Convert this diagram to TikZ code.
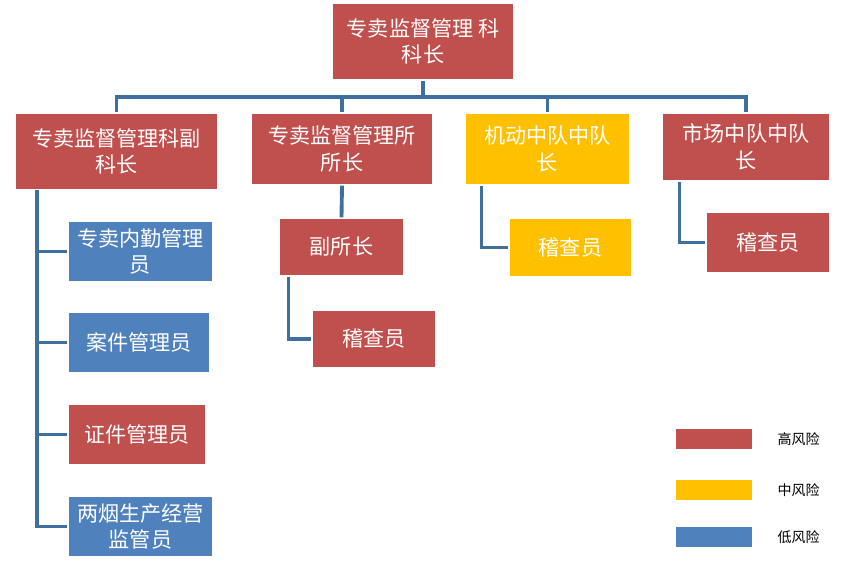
\documentclass[tikz,border=0pt]{standalone}
\usepackage{fontspec}
\newfontfamily\cjk{Noto Sans CJK SC}
\usetikzlibrary{positioning,calc}
\definecolor{hired}{HTML}{C0504D}
\definecolor{loblue}{HTML}{4F81BD}
\definecolor{midyel}{HTML}{FFC000}
\definecolor{linkc}{HTML}{3F6F9F}

\begin{document}
\begin{tikzpicture}[x=0.02cm, y=-0.02cm, line width=2pt,
    box/.style={draw=white, line width=0.6pt, fill=hired, text=white, align=center,
                font=\cjk\fontsize{12}{15}\selectfont, inner sep=1pt},
    link/.style={draw=linkc, line width=2.2pt}]
    \useasboundingbox (0, 0) rectangle (850, 578);

    % top
    \node (top) [box, minimum width=182*0.02cm, minimum height=77*0.02cm] at (423, 41.5) {专卖监督管理 科\\科长};

    % first row
    \node (sub) [box, minimum width=203*0.02cm, minimum height=77*0.02cm] at (116.5, 151.5) {专卖监督管理科副\\科长};
    \node (off) [box, minimum width=182*0.02cm, minimum height=72*0.02cm] at (342, 149) {专卖监督管理所\\所长};
    \node (mob) [box, fill=midyel, minimum width=165*0.02cm, minimum height=72*0.02cm] at (547.5, 149) {机动中队中队\\长};
    \node (mkt) [box, minimum width=168*0.02cm, minimum height=68*0.02cm] at (746, 147) {市场中队中队\\长};

    % under sub
    \node (s1) [box, fill=loblue, minimum width=145*0.02cm, minimum height=61*0.02cm] at (140.5, 251.5) {专卖内勤管理\\员};
    \node (s2) [box, fill=loblue, minimum width=142*0.02cm, minimum height=61*0.02cm] at (139, 342.5) {案件管理员};
    \node (s3) [box, minimum width=138*0.02cm, minimum height=61*0.02cm] at (137, 434.5) {证件管理员};
    \node (s4) [box, fill=loblue, minimum width=145*0.02cm, minimum height=61*0.02cm] at (140.5, 526.5) {两烟生产经营\\监管员};

    % under office
    \node (vice) [box, minimum width=125*0.02cm, minimum height=58*0.02cm] at (341.5, 247) {副所长};
    \node (ins1) [box, minimum width=124*0.02cm, minimum height=58*0.02cm] at (374, 339) {稽查员};
    \node (ins2) [box, fill=midyel, minimum width=123*0.02cm, minimum height=59*0.02cm] at (570.5, 247.5) {稽查员};
    \node (ins3) [box, minimum width=124*0.02cm, minimum height=61*0.02cm] at (768, 242.5) {稽查员};

    % links
    \coordinate (bus) at (423, 97);
    \draw [link] (top.south) -- (bus);
    \draw [link] (sub.north) |- (bus) -| (mkt.north);
    \draw [link] (off.north) -- (off.north |- bus);
    \draw [link] (mob.north) -- (mob.north |- bus);

    \coordinate (trunk) at (37, 190);
    \draw [link] (trunk) |- (s4.west);
    \foreach \n in {s1, s2, s3}
        \draw [link] (\n.west) -- (\n.west -| trunk);

    \draw [link] (off.south) -- (vice.north);
    \draw [link] ($(vice.south west)+(10,0)$) |- (ins1.west);
    \draw [link] ($(mob.south west)+(17,0)$) |- (ins2.west);
    \draw [link] ($(mkt.south west)+(18,0)$) |- (ins3.west);

    % legend
    \foreach \c/\t/\y in {hired/高风险/439, midyel/中风险/490, loblue/低风险/537}{
        \fill [\c] (676, \y-10) rectangle (752, \y+10);
        \node [font=\cjk\fontsize{8}{10}\selectfont, anchor=west] at (770, \y) {\t};
    }
\end{tikzpicture}
\end{document}
